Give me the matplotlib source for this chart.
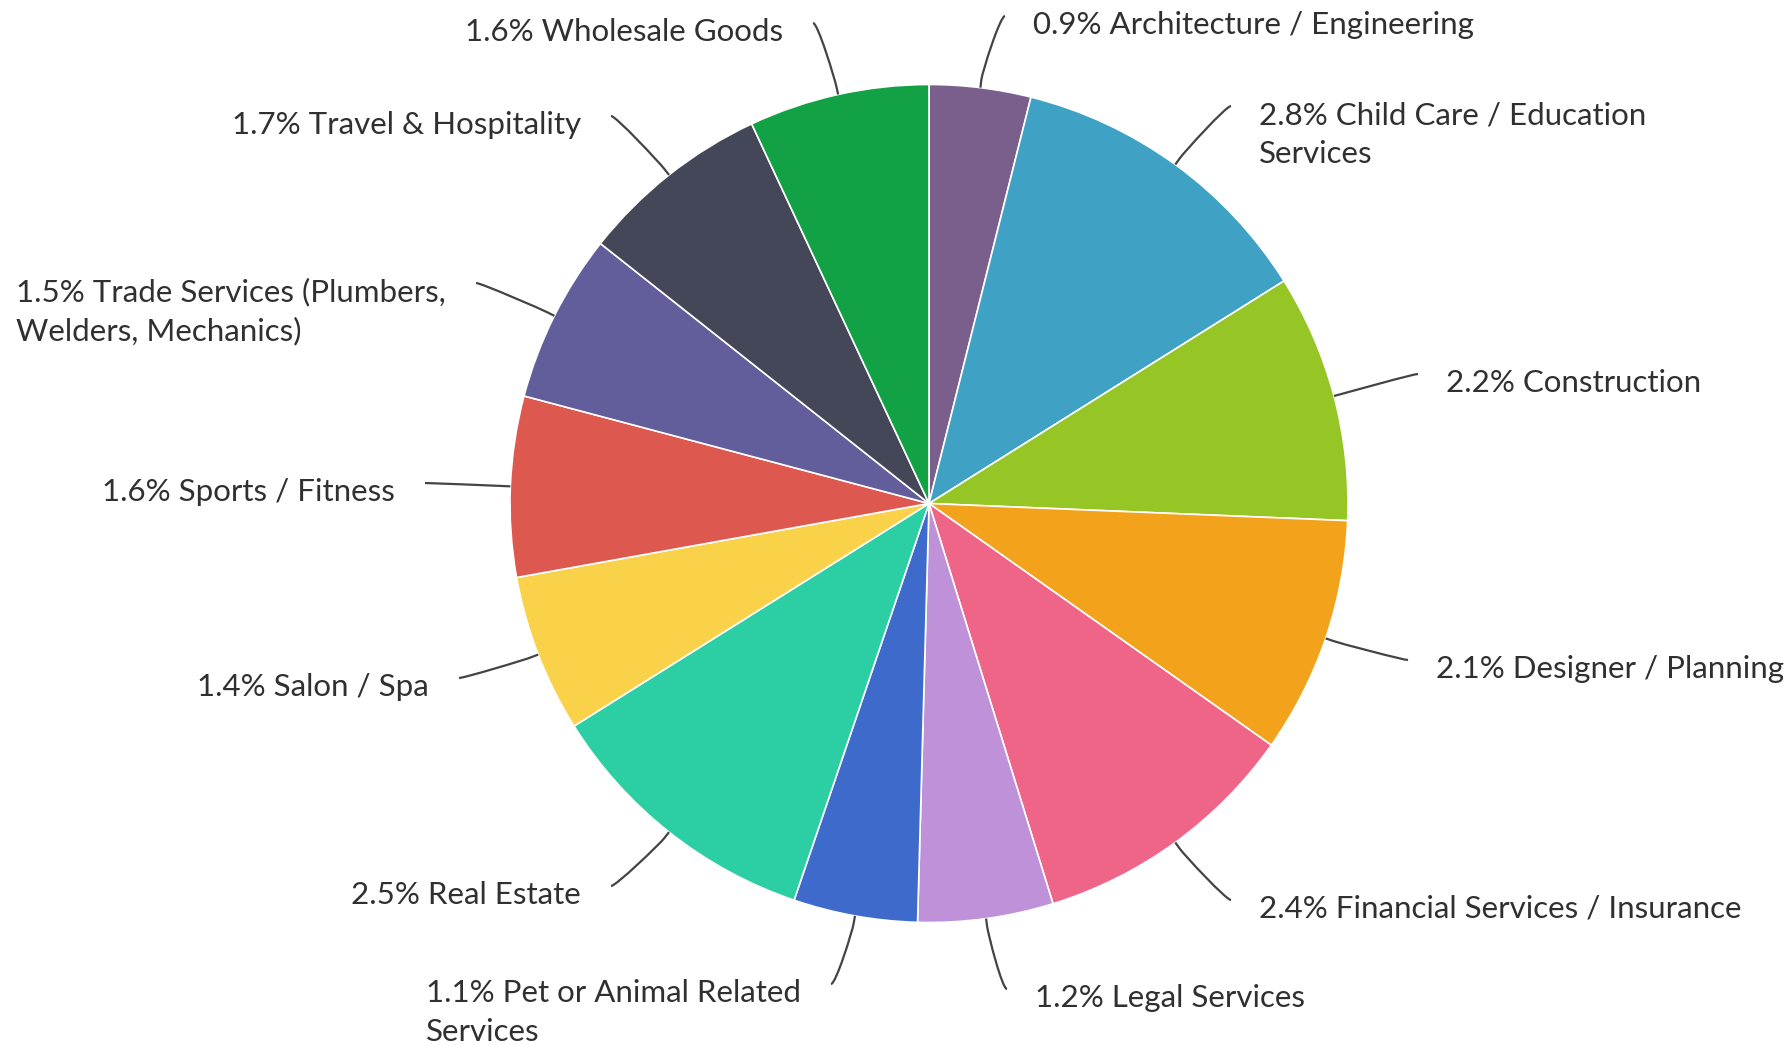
import numpy as np
import matplotlib.pyplot as plt
from matplotlib.path import Path
from matplotlib.patches import PathPatch

plt.rcParams['font.family'] = ['Lato', 'DejaVu Sans']

# ---------------- Daten ----------------
industries = [
    "Architecture / Engineering",
    "Child Care / Education\nServices",
    "Construction",
    "Designer / Planning",
    "Financial Services / Insurance",
    "Legal Services",
    "Pet or Animal Related\nServices",
    "Real Estate",
    "Salon / Spa",
    "Sports / Fitness",
    "Trade Services (Plumbers,\nWelders, Mechanics)",
    "Travel & Hospitality",
    "Wholesale Goods",
]
shares = [0.9, 2.8, 2.2, 2.1, 2.4, 1.2, 1.1, 2.5, 1.4, 1.6, 1.5, 1.7, 1.6]
colors = [
    "#7a5e8c", "#3fa1c3", "#96c626", "#f3a31b", "#ef6587", "#bf91d8", "#3e6bcb",
    "#2ccfa3", "#fad24a", "#dd5950", "#615e9b", "#434758", "#12a144",
]

# Anfangspunkte der Verbindungslinien neben den Beschriftungen (Pixel, oben links = 0,0)
label_anchors = [
    (1005, 16), (1231, 106), (1418, 374), (1408, 660), (1231, 900), (1007, 989),
    (831, 984), (611, 886), (459, 678), (425, 483), (476, 283), (611, 116), (813, 23),
]

# ---------------- Layout ----------------
W, H = 1790, 1045
cx, cy, radius = 929, 503.5, 419
fontsize = 22.5
line_step = 39
text_color = "#303030"
line_color = "#444444"

fig = plt.figure(figsize=(W / 100, H / 100), dpi=100)
ax = fig.add_axes([0, 0, 1, 1])

# y-Achse zeigt nach unten, daher laeuft "counterclock" im Bild im Uhrzeigersinn
ax.pie(shares, colors=colors, startangle=270, counterclock=True,
       center=(cx, cy), radius=radius,
       wedgeprops=dict(edgecolor="white", linewidth=1.2, antialiased=True))
ax.set_xlim(0, W)
ax.set_ylim(H, 0)
ax.axis("off")

total = sum(shares)
cum = np.cumsum(shares) - np.array(shares) / 2

for name, val, mid, (ax_x, ax_y) in zip(industries, shares, cum, label_anchors):
    phi = 2 * np.pi * mid / total
    touch = np.array([cx + radius * np.sin(phi), cy - radius * np.cos(phi)])
    brk = np.array([cx + (radius + 8) * np.sin(phi), cy - (radius + 8) * np.cos(phi)])
    right_side = np.sin(phi) > 0
    bend = -5 if right_side else 5

    # weiche Verbindungslinie: Kurve vom Label zum Knick, dann gerade zum Kreisbogen
    verts = [(ax_x, ax_y), (ax_x + bend, ax_y), tuple(2 * brk - touch), tuple(brk), tuple(touch)]
    codes = [Path.MOVETO, Path.CURVE4, Path.CURVE4, Path.CURVE4, Path.LINETO]
    ax.add_patch(PathPatch(Path(verts, codes), facecolor="none",
                           edgecolor=line_color, linewidth=1.6, zorder=3))

    # mehrzeilige Labels: links buendig, rechte Kante am Anker (linke Seite)
    lines = f"{val:.1f}% {name}".split("\n")
    if right_side:
        tx = ax_x + 28
    else:
        widest = max(lines, key=len)
        probe = ax.text(0, 0, widest, fontsize=fontsize)
        fig.canvas.draw()
        bb = probe.get_window_extent()
        probe.remove()
        tx = ax_x - 30 - bb.width
    for i, line in enumerate(lines):
        ax.text(tx, ax_y + 18 + i * line_step, line, fontsize=fontsize, color=text_color,
                ha="left", va="baseline")

fig.savefig("out.png", dpi=100)
